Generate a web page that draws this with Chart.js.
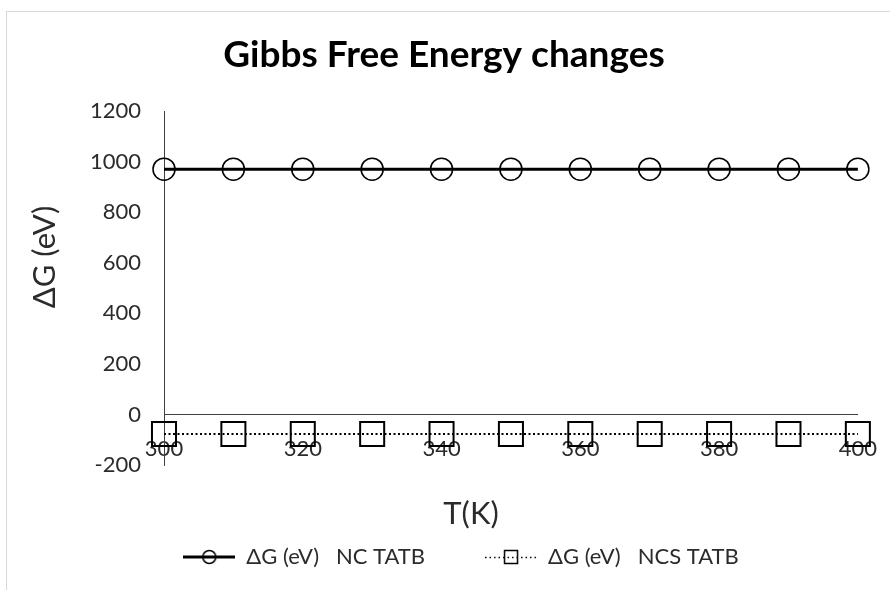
<!DOCTYPE html>
<html>
<head>
<meta charset="utf-8">
<script src="https://cdn.jsdelivr.net/npm/chart.js@4.4.1/dist/chart.umd.min.js"></script>
<style>
  body { margin: 0; background: #fff; overflow: hidden; }
  .frame { position: absolute; left: 6px; top: 11px; width: 900px; height: 600px; border: 1px solid #d9d9d9; }
  .wrap { position: absolute; left: 0; top: 0; width: 890px; height: 590px; }
</style>
</head>
<body>
<div class="frame"></div>
<div class="wrap"><canvas id="gibbsChart" width="890" height="590"></canvas></div>
<script>
  // data
  const temps = [300, 310, 320, 330, 340, 350, 360, 370, 380, 390, 400];
  const ncTatb = [970, 970, 970, 970, 970, 970, 970, 970, 970, 970, 970];
  const ncsTatb = [-77, -77, -77, -77, -77, -77, -77, -77, -77, -77, -77];
  const seriesNames = ['ΔG (eV)   NC TATB', 'ΔG (eV)   NCS TATB'];
  const yTicks = [-200, 0, 200, 400, 600, 800, 1000, 1200];
  const xTicks = [300, 320, 340, 360, 380, 400];
  const chartTitle = 'Gibbs Free Energy changes';
  const xTitle = 'T(K)';
  const yTitle = 'ΔG (eV)';

  const FONT = 'Lato, "Open Sans", sans-serif';
  const TEXT = '#2b2b2b';

  // little legend icons: line + marker
  function legendIcon(kind) {
    const c = document.createElement('canvas');
    c.width = 52; c.height = 20;
    const g = c.getContext('2d');
    g.strokeStyle = '#000';
    if (kind === 'circle') {
      g.lineWidth = 3;
      g.beginPath(); g.moveTo(0, 10); g.lineTo(52, 10); g.stroke();
      g.lineWidth = 1.5;
      g.beginPath(); g.arc(26, 10, 6.5, 0, Math.PI * 2); g.stroke();
    } else {
      g.lineWidth = 1.5;
      g.setLineDash([1.5, 3]);
      g.beginPath(); g.moveTo(0, 10.5); g.lineTo(52, 10.5); g.stroke();
      g.setLineDash([]);
      g.strokeRect(19.5, 3.5, 13, 13);
    }
    return c;
  }
  const icons = [legendIcon('circle'), legendIcon('rect')];

  // the titles sit off-centre in the original, so place them by hand
  const titles = {
    id: 'titles',
    afterDraw(chart) {
      const ctx = chart.ctx;
      ctx.save();
      ctx.textAlign = 'center';
      ctx.textBaseline = 'middle';
      ctx.fillStyle = '#000';
      ctx.font = 'bold 37px ' + FONT;
      ctx.fillText(chartTitle, 444, 55);
      ctx.fillStyle = TEXT;
      ctx.font = '31px ' + FONT;
      ctx.fillText(xTitle, 471, 514);
      ctx.translate(45, 257);
      ctx.rotate(-Math.PI / 2);
      ctx.fillText(yTitle, 0, 0);
      ctx.restore();
    }
  };

  const toPoints = vals => temps.map((t, i) => ({ x: t, y: vals[i] }));

  new Chart(document.getElementById('gibbsChart'), {
    type: 'line',
    data: {
      datasets: [{
        label: seriesNames[0],
        data: toPoints(ncTatb),
        borderColor: '#000',
        borderWidth: 3,
        pointStyle: 'circle',
        pointRadius: 11,
        pointBorderWidth: 1.5,
        pointBorderColor: '#000',
        pointBackgroundColor: 'rgba(0,0,0,0)',
        clip: false
      }, {
        label: seriesNames[1],
        data: toPoints(ncsTatb),
        borderColor: '#000',
        borderWidth: 2,
        borderDash: [2, 2.5],
        pointStyle: 'rect',
        pointRadius: 17,
        pointBorderWidth: 2,
        pointBorderColor: '#000',
        pointBackgroundColor: 'rgba(0,0,0,0)',
        clip: false
      }]
    },
    plugins: [titles],
    options: {
      responsive: false,
      animation: false,
      layout: { padding: { left: 60, right: 28, top: 111, bottom: 12 } },
      scales: {
        x: {
          type: 'linear',
          position: { y: 0 },
          min: 300, max: 400,
          afterBuildTicks: s => { s.ticks = xTicks.map(v => ({ value: v })); },
          grid: { display: false },
          border: { display: true, color: '#404040', width: 1 },
          ticks: { font: { family: FONT, size: 22 }, color: TEXT, padding: 13, maxRotation: 0 }
        },
        // empty strip between plot and legend
        gap: {
          type: 'linear',
          axis: 'x',
          position: 'bottom',
          min: 300, max: 400,
          afterFit: s => { s.height = 21; },
          grid: { display: false },
          border: { display: false },
          ticks: { display: false }
        },
        y: {
          min: -200, max: 1200,
          afterBuildTicks: s => { s.ticks = yTicks.map(v => ({ value: v })); },
          afterFit: s => { s.width = 104; },
          grid: { display: false },
          border: { display: true, color: '#404040', width: 1 },
          ticks: { font: { family: FONT, size: 22 }, color: TEXT, padding: 15, callback: v => String(v) }
        }
      },
      plugins: {
        title: { display: false },
        legend: {
          position: 'bottom',
          labels: {
            font: { family: FONT, size: 22 },
            color: TEXT,
            usePointStyle: true,
            pointStyleWidth: 52,
            padding: 60,
            generateLabels: chart => chart.data.datasets.map((ds, i) => ({
              text: ds.label,
              pointStyle: icons[i],
              fontColor: TEXT,
              strokeStyle: '#000',
              fillStyle: 'rgba(0,0,0,0)',
              lineWidth: 0,
              hidden: false,
              datasetIndex: i
            }))
          }
        },
        tooltip: { enabled: false }
      }
    }
  });
</script>
</body>
</html>
